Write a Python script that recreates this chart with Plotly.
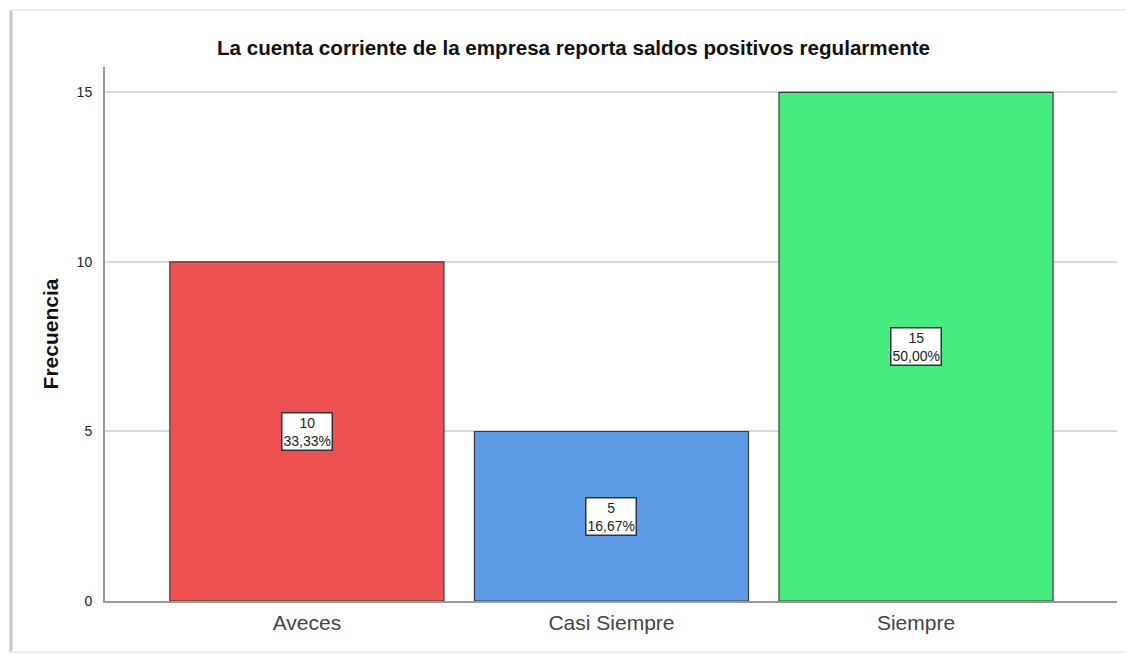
import plotly.graph_objects as go

categories = ["Aveces", "Casi Siempre", "Siempre"]
frequencies = [10, 5, 15]
percent_labels = ["33,33%", "16,67%", "50,00%"]
bar_colors = ["#EE5151", "#5B9BE6", "#46EC80"]

fig = go.Figure()
fig.add_trace(go.Bar(
    x=categories, y=frequencies, width=0.9,
    marker=dict(color=bar_colors, line=dict(color="#3a3a3a", width=1.2)),
    hoverinfo="skip", showlegend=False,
))

for c, v, p in zip(categories, frequencies, percent_labels):
    fig.add_annotation(
        x=c, y=v / 2, xref="x", yref="y",
        text=f"{v}<br>{p}", showarrow=False,
        font=dict(family="Liberation Sans, Arial", size=14, color="#222"),
        bgcolor="white", bordercolor="#333", borderwidth=1.5, borderpad=1,
    )

# picture frame (left, top and bottom edges)
fig.add_shape(type="line", xref="paper", yref="paper",
              x0=-0.0929, x1=-0.0929, y0=-0.0955, y1=1.1067,
              line=dict(color="#c8c8c8", width=3), layer="below")
fig.add_shape(type="line", xref="paper", yref="paper",
              x0=-0.0929, x1=1.03, y0=1.1067, y1=1.1067,
              line=dict(color="#ececec", width=2), layer="below")
fig.add_shape(type="line", xref="paper", yref="paper",
              x0=-0.0929, x1=1.03, y0=-0.0955, y1=-0.0955,
              line=dict(color="#ececec", width=2), layer="below")

fig.update_layout(
    width=1134, height=655,
    margin=dict(l=97, r=25, t=59, b=62),
    paper_bgcolor="white", plot_bgcolor="white",
    title=dict(text="<b>La cuenta corriente de la empresa reporta saldos positivos regularmente</b>",
               x=0.4987, xanchor="center", y=0.939, yanchor="middle",
               font=dict(family="Liberation Sans, Arial", size=20.6, color="#111")),
    font=dict(family="Liberation Sans, Arial"),
    bargap=0.1,
)
fig.update_xaxes(range=[-0.663, 2.66], showline=True, linecolor="#999", linewidth=2,
                 ticks="", ticklabelstandoff=2,
                 tickfont=dict(size=21, color="#444"), showgrid=False)
fig.update_yaxes(range=[0, 15.75], tickvals=[0, 5, 10, 15], showline=True,
                 linecolor="#999", linewidth=2, showgrid=True, gridcolor="#d9d9d9",
                 gridwidth=1.5, zeroline=False, ticks="", ticklabelstandoff=8,
                 tickfont=dict(size=14, color="#222"),
                 title=dict(text="<b>Frecuencia</b>", standoff=12,
                            font=dict(size=21, color="#111")))

fig.write_html("out.html")
